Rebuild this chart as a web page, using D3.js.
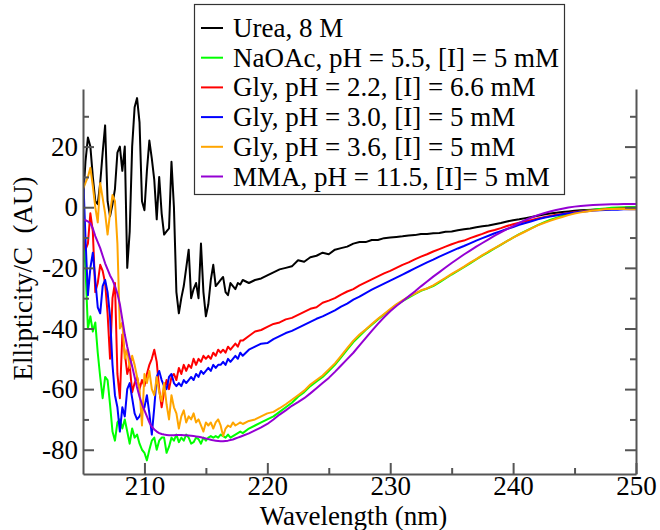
<!DOCTYPE html>
<html>
<head>
<meta charset="utf-8">
<script src="https://cdn.jsdelivr.net/npm/d3@7"></script>
<style>
  body { margin: 0; background: #fff; }
  svg text { font-family: "Liberation Serif", "DejaVu Serif", serif !important; }
</style>
</head>
<body>
<div id="chart"></div>
<script>
// sampling grid: 0.2 nm up to 218 nm, then 0.5 nm
var wlFine = [205, 205.2, 205.4, 205.6, 205.8, 206, 206.2, 206.4, 206.6, 206.8,
	207, 207.2, 207.4, 207.6, 207.8, 208, 208.2, 208.4, 208.6, 208.8,
	209, 209.2, 209.4, 209.6, 209.8, 210, 210.2, 210.4, 210.6, 210.8,
	211, 211.2, 211.4, 211.6, 211.8, 212, 212.2, 212.4, 212.6, 212.8,
	213, 213.2, 213.4, 213.6, 213.8, 214, 214.2, 214.4, 214.6, 214.8,
	215, 215.2, 215.4, 215.6, 215.8, 216, 216.2, 216.4, 216.6, 216.8,
	217, 217.2, 217.4, 217.6, 217.8, 218];
var wlTail = [218.5, 219, 219.5, 220, 220.5, 221, 221.5, 222, 222.5, 223, 223.5, 224,
	224.5, 225, 225.5, 226, 226.5, 227, 227.5, 228, 228.5, 229, 229.5, 230,
	230.5, 231, 231.5, 232, 232.5, 233, 233.5, 234, 234.5, 235, 235.5, 236,
	236.5, 237, 237.5, 238, 238.5, 239, 239.5, 240, 240.5, 241, 241.5, 242,
	242.5, 243, 243.5, 244, 244.5, 245, 245.5, 246, 246.5, 247, 247.5, 248,
	248.5, 249, 249.5, 250];

var ureaFine = [2, 15, 23, 20, 10,  2, 1, 8, 18, 27,  2, -3, 1, 6, 18,
	20, 12, 20, -20, -8,  20, 33, 36, 28, 2,  -1, 12, 22, 16, 9,
	-4, 10, -2, -9, -8,  -7, 15, 0, -28, -35,  -30, -26, -20, -14, -30,
	-27, -25, -30, -12, -28,  -36, -32, -24, -19, -26,  -25, -24, -23, -28, -29,
	-25, -26, -27, -25, -25.5,  -24];
var ureaTail = [-25, -24, -23.5, -22.5,  -21.5, -20.5, -20, -19.5,  -17.5, -18, -16.5, -16,
	-15, -15.5, -14, -13.5,  -13, -12, -11.5, -11.5,  -10.8, -10.8, -10.2, -10,
	-9.8, -9.6, -9.3, -9.2,  -8.8, -8.8, -8.6, -8.5,  -8.1, -8, -7.6, -7.3,
	-7, -6.6, -6.3, -6,  -5.6, -5.2, -4.7, -4.3,  -4, -3.6, -3.2, -2.8,
	-2.4, -2.1, -1.8, -1.6,  -1.4, -1.2, -1, -0.9,  -0.8, -0.7, -0.6, -0.5,
	-0.5, -0.4, -0.4, -0.3];

var naoacFine = [-8, -20, -40, -36, -41,  -38, -48, -56, -63, -56,  -57, -65, -74, -77, -71,
	-70, -73, -70, -74, -78,  -73, -76, -75, -78, -80,  -81, -83.5, -80, -77, -76,
	-80, -77, -76, -76, -81,  -79, -76, -77, -75, -77.5,  -76, -77, -75, -76, -78,
	-77.5, -76, -76.5, -78, -76,  -77, -76, -75.5, -76, -75.5,  -76, -75, -75.5, -76, -75,
	-76, -75.5, -75, -74.5, -74,  -74.5];
var naoacTail = [-73, -72, -71, -70,  -69, -67.5, -66, -64.5,  -62.5, -61, -59, -57.5,
	-56, -54, -52, -49.5,  -47, -44.5, -42.5, -40.5,  -38.8, -37, -35.4, -33.8,
	-32.2, -31, -29.8, -28.7,  -27.6, -26.8, -26, -24.8,  -23.5, -22.2, -21, -19.8,
	-18.5, -17.2, -16, -14.8,  -13.6, -12.4, -11.2, -10,  -8.9, -7.9, -6.9, -5.9,
	-5, -4.2, -3.5, -2.9,  -2.3, -1.8, -1.4, -1.1,  -0.8, -0.6, -0.4, -0.2,
	-0.1, 0, 0.1, 0.1];

var gly22Fine = [-10, -14, -12, -2, -8,  -28, -25, -19, -21, -25,  -35, -50, -30, -25, -55,
	-63, -42, -48, -55, -52,  -61, -58, -56, -60, -57,  -59, -55, -52, -50, -47,
	-51, -60, -66, -61, -57,  -60, -56, -55, -57, -53,  -55, -52, -54, -52, -53,
	-50, -52, -50, -51, -49,  -50, -49, -50, -48, -49,  -47, -48, -47, -48, -46,
	-47, -46, -45, -46, -44,  -44];
var gly22Tail = [-42.5, -41, -40.5, -39.5,  -38.5, -38, -37, -36.5,  -35.5, -34.5, -33.5, -33,
	-31.5, -30.8, -30, -28.8,  -27.8, -27, -25.8, -24.8,  -23.8, -22.8, -21.8, -21,
	-20, -19, -18.2, -17.2,  -16.3, -15.5, -14.6, -13.8,  -13, -12.2, -11.5, -11,
	-10.2, -9.5, -8.8, -8,  -7.5, -6.9, -6.2, -5.6,  -5.1, -4.6, -4.2, -3.7,
	-3.3, -2.9, -2.5, -2.2,  -1.9, -1.6, -1.4, -1.2,  -1, -0.9, -0.7, -0.6,
	-0.5, -0.4, -0.3, -0.3];

var gly30Fine = [12, -10, -29, -20, -15,  -24, -33, -35, -26, -24,  -28, -36, -52, -62, -66,
	-74, -66, -69, -60, -58,  -63, -68, -70, -69, -67,  -66, -62, -68, -75, -66,
	-56, -54, -57, -59, -60,  -56, -55, -58, -59, -58,  -59, -57, -58, -57, -56,
	-57, -55, -56, -54, -55,  -54, -53, -54, -52, -53,  -52, -52, -51, -52, -50,
	-51, -50, -49, -50, -48,  -49];
var gly30Tail = [-47, -46, -45, -44.8,  -43.5, -42.5, -41.5, -40.8,  -39.8, -38.8, -37.8, -36.8,
	-36, -35, -34, -32.8,  -31.8, -30.5, -29.5, -28.3,  -27.2, -26.2, -25.2, -24.2,
	-23.2, -22.2, -21.2, -20.2,  -19.2, -18.2, -17.3, -16.3,  -15.4, -14.5, -13.6, -12.8,
	-11.9, -11, -10.2, -9.4,  -8.6, -7.9, -7.2, -6.5,  -5.8, -5.2, -4.6, -4,
	-3.5, -3.1, -2.7, -2.3,  -2, -1.7, -1.5, -1.3,  -1.1, -1, -0.9, -0.8,
	-0.8, -0.7, -0.7, -0.7];

var gly36Fine = [6, 8, 10, 13, 7,  0, -5, 8, 3, -2,  -9, -2, 4, 2, -12,
	-40, -38, -50, -47, -53,  -49, -52, -56, -60, -72,  -55, -58, -54, -60, -62,
	-56, -61, -64, -58, -65,  -70, -62, -66, -68, -73,  -69, -67, -71, -69, -70,
	-68, -71, -70, -72, -74,  -71, -72, -71, -73, -71,  -70, -72, -75.5, -73, -72,
	-72.5, -71, -72, -71.5, -71,  -71.5];
var gly36Tail = [-70.5, -70, -69, -68,  -67.5, -66.3, -65, -63.5,  -62, -60.5, -58.5, -57,
	-55.5, -53.5, -51.5, -49,  -46.5, -44, -42, -40.3,  -38.5, -36.8, -35.2, -33.6,
	-32, -30.7, -29.5, -28.5,  -27.4, -26.8, -25.8, -24.5,  -23.3, -22, -20.8, -19.6,
	-18.3, -17.1, -15.8, -14.6,  -13.5, -12.3, -11.2, -10,  -9, -8, -7, -6,
	-5.2, -4.5, -3.8, -3.2,  -2.6, -2.1, -1.7, -1.4,  -1.1, -0.9, -0.7, -0.6,
	-0.6, -0.6, -0.7, -0.7];

var mmaFine = [-4, -4.3, -4.7, -5.3, -7,  -9.5, -11.5, -13.5, -16, -18.5,  -20.5, -22.5, -24, -26, -28.5,
	-32, -37, -42, -46, -49.5,  -52.5, -56, -59.5, -62.5, -65,  -67, -69, -71, -72.4, -73.3,
	-74, -74.5, -74.8, -75, -75.1,  -75.2, -75.2, -75.2, -75.1, -75.1,  -75.1, -75.2, -75.2, -75.3, -75.4,
	-75.5, -75.6, -75.7, -75.9, -76.1,  -76.3, -76.5, -76.7, -76.9, -77,  -77.1, -77.2, -77.2, -77.1, -77,
	-76.8, -76.6, -76.3, -76, -75.7,  -75.4];
var mmaTail = [-74.6, -73.6, -72.6, -71.5,  -70, -68.4, -67, -65.5,  -64.3, -63, -61.4, -59.7,
	-58, -56.3, -54.3, -52.2,  -50.1, -48, -45.6, -43.2,  -40.8, -38.5, -36.3, -34.3,
	-32.6, -31, -29.4, -27.8,  -26.1, -24.5, -22.9, -21.4,  -19.9, -18.4, -17, -15.6,
	-14.3, -13, -11.8, -10.6,  -9.4, -8.3, -7.2, -6.2,  -5.2, -4.2, -3.4, -2.6,
	-2, -1.4, -0.9, -0.5,  -0.1, 0.2, 0.4, 0.6,  0.7, 0.8, 0.9, 1,
	1, 1.1, 1.1, 1.1];

var seriesNames = ["Urea, 8 M", "NaOAc, pH = 5.5, [I] = 5 mM", "Gly, pH = 2.2, [I] = 6.6 mM",
	"Gly, pH = 3.0, [I] = 5 mM", "Gly, pH = 3.6, [I] = 5 mM", "MMA, pH = 11.5, [I]= 5 mM"];
var seriesColors = ["#000000", "#00ff00", "#ff0000", "#0000ff", "#ffa500", "#9400d3"];
var xTicks = [210, 220, 230, 240, 250];
var xMinor = [215, 225, 235, 245];
var yTicks = [-80, -60, -40, -20, 0, 20];
var yMinor = [-70, -50, -30, -10, 10, 30];

var wavelength = wlFine.concat(wlTail);
var seriesValues = [
	ureaFine.concat(ureaTail),
	naoacFine.concat(naoacTail),
	gly22Fine.concat(gly22Tail),
	gly30Fine.concat(gly30Tail),
	gly36Fine.concat(gly36Tail),
	mmaFine.concat(mmaTail)
];

var width = 660,
	height = 530,
	margin = {top: 89, right: 24, bottom: 56, left: 83},
	svg = d3.select("#chart").append("svg").attr("width", width).attr("height", height);

var x = d3.scaleLinear().domain([205, 250]).range([margin.left, width - margin.right]);
var y = d3.scaleLinear().domain([-88, 39]).range([height - margin.bottom, margin.top]);

svg.append("clipPath").attr("id", "plot-clip")
	.append("rect")
	.attr("x", x(205)).attr("y", y(39))
	.attr("width", x(250) - x(205)).attr("height", y(-88) - y(39));

var line = d3.line()
	.x(function (d) { return x(d[0]); })
	.y(function (d) { return y(d[1]); });

var lines = svg.append("g").attr("clip-path", "url(#plot-clip)");
seriesValues.forEach(function (vals, i) {
	var pts = wavelength.map(function (w, j) { return [w, vals[j]]; })
		.filter(function (p) { return p[1] !== undefined; });
	lines.append("path")
		.datum(pts)
		.attr("d", line)
		.attr("fill", "none")
		.attr("stroke", seriesColors[i])
		.attr("stroke-width", 2)
		.attr("stroke-linejoin", "round");
});

// axes, ticks inward like the original
var axisColor = "#555";
var plainNum = function (d) { return String(d); };
function styleAxis(g) {
	g.attr("font-family", null);
	g.selectAll("path.domain").attr("stroke", axisColor).attr("stroke-width", 2);
	g.selectAll(".tick line").attr("stroke", axisColor).attr("stroke-width", 2);
	g.selectAll(".tick text").attr("fill", "#000").style("font-size", "27px");
}

var bottom = svg.append("g").attr("transform", "translate(0," + y(-88) + ")");
bottom.call(d3.axisBottom(x).tickValues(xTicks).tickFormat(plainNum).tickSizeInner(-11).tickSizeOuter(0).tickPadding(2));
bottom.append("g").call(d3.axisBottom(x).tickValues(xMinor).tickSizeInner(-6).tickSizeOuter(0).tickFormat(""))
	.select("path.domain").remove();
styleAxis(bottom);

var left = svg.append("g").attr("transform", "translate(" + x(205) + ",0)");
left.call(d3.axisLeft(y).tickValues(yTicks).tickFormat(plainNum).tickSizeInner(-11).tickSizeOuter(0).tickPadding(5));
left.append("g").call(d3.axisLeft(y).tickValues(yMinor).tickSizeInner(-6).tickSizeOuter(0).tickFormat(""))
	.select("path.domain").remove();
styleAxis(left);

var right = svg.append("g").attr("transform", "translate(" + x(250) + ",0)");
right.call(d3.axisRight(y).tickValues(yTicks).tickSizeInner(-11).tickSizeOuter(0).tickFormat(""));
right.append("g").call(d3.axisRight(y).tickValues(yMinor).tickSizeInner(-6).tickSizeOuter(0).tickFormat(""))
	.select("path.domain").remove();
styleAxis(right);

svg.append("text")
	.attr("x", (x(205) + x(250)) / 2 - 6)
	.attr("y", 525)
	.attr("text-anchor", "middle")
	.style("font-size", "27px")
	.text("Wavelength (nm)");

svg.append("text")
	.attr("transform", "translate(32," + ((y(39) + y(-88)) / 2 - 3) + ") rotate(-90)")
	.attr("text-anchor", "middle")
	.style("font-size", "27px")
	.style("white-space", "pre")
	.text("Ellipticity/C  (AU)");

// legend
var legend = svg.append("g");
legend.append("rect")
	.attr("x", 194.5).attr("y", 4.5)
	.attr("width", 370).attr("height", 190)
	.attr("fill", "#fff")
	.attr("stroke", "#333")
	.attr("stroke-width", 1.2);

seriesNames.forEach(function (name, i) {
	var cy = 28 + i * 29.7;
	legend.append("line")
		.attr("x1", 201).attr("x2", 223)
		.attr("y1", cy).attr("y2", cy)
		.attr("stroke", seriesColors[i])
		.attr("stroke-width", 2);
	legend.append("text")
		.attr("x", 233).attr("y", cy + 9)
		.style("font-size", "27px")
		.text(name);
});
</script>
</body>
</html>
